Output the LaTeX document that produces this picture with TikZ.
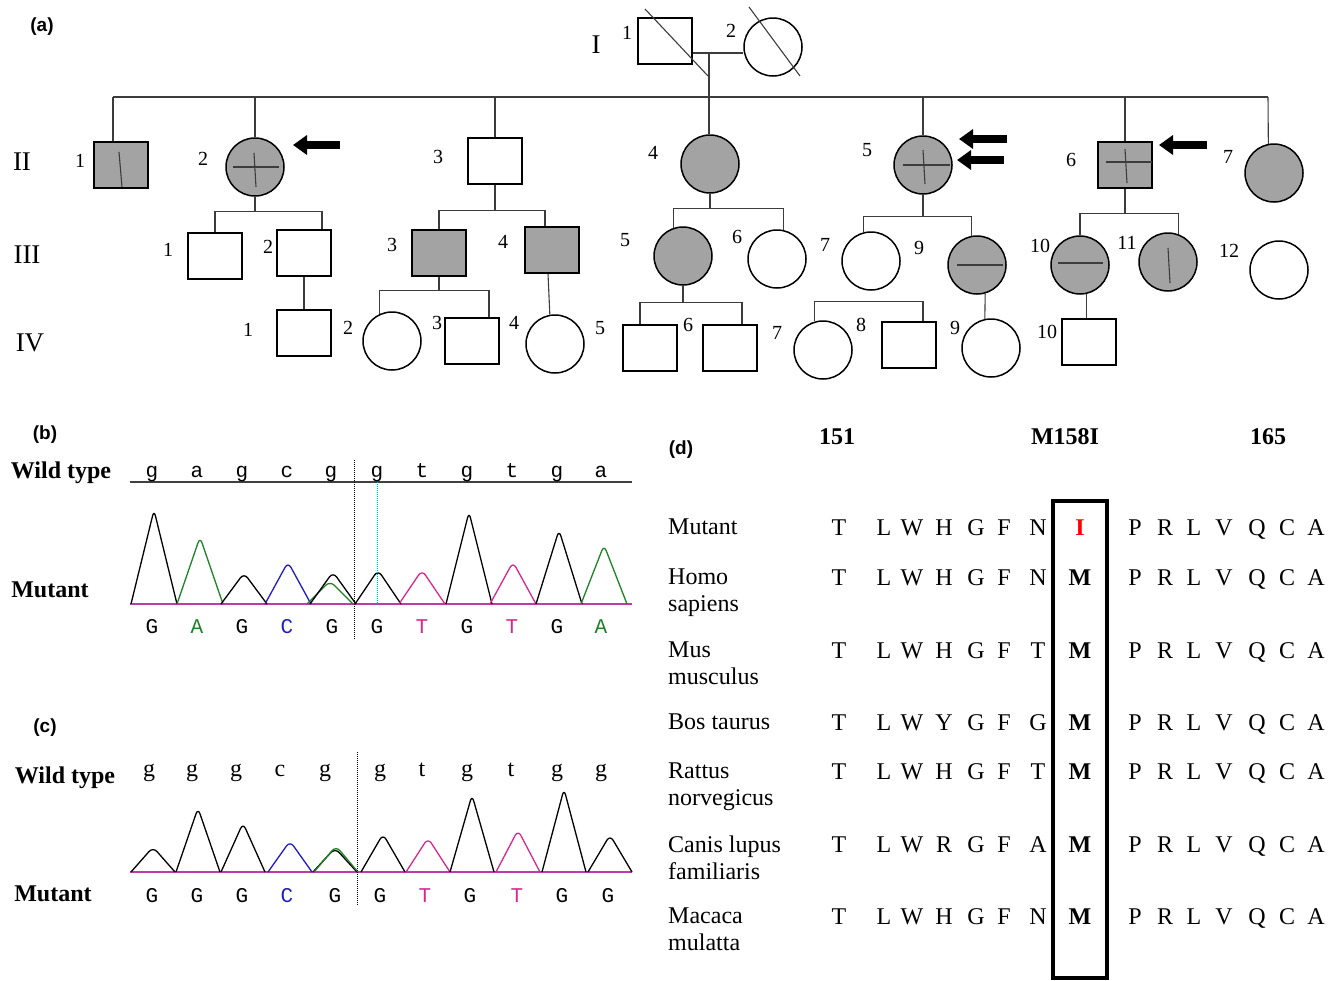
\documentclass[tikz,border=0pt]{standalone}
\usepackage{fontspec}
\setmainfont{Liberation Serif}
\setsansfont{Liberation Sans}
\setmonofont{Liberation Mono}
\usetikzlibrary{arrows.meta}
\definecolor{affgray}{RGB}{163,163,163}
\definecolor{pedgray}{RGB}{60,60,60}
\definecolor{trgreen}{RGB}{30,130,40}
\definecolor{trblue}{RGB}{30,30,190}
\definecolor{trpink}{RGB}{215,40,140}
\definecolor{basepink}{RGB}{190,60,170}
\definecolor{dotcyan}{RGB}{0,170,190}
\newcommand{\pxsize}[1]{\fontsize{#1}{#1}\selectfont}

\begin{document}
\begin{tikzpicture}[x=1pt,y=-1pt,
  male/.style={draw=black,line width=1.5pt,rectangle,minimum width=54pt,minimum height=46pt,inner sep=0pt},
  female/.style={draw=black,line width=1.5pt,circle,minimum size=58pt,inner sep=0pt},
  affected/.style={fill=affgray},
  pedlink/.style={draw=pedgray,line width=1.1pt},
  sign/.style={draw=pedgray,line width=1.1pt},
  idno/.style={font=\pxsize{20},inner sep=0pt},
  genlab/.style={font=\pxsize{27},inner sep=0pt},
  panel/.style={font=\sffamily\bfseries\pxsize{19},inner sep=0pt},
  proband/.style={line width=7.5pt,-{Triangle[length=14pt,width=19pt]}},
  chrom/.style={line width=1.3pt,line join=round,rounded corners=6pt},
  wt/.style={font=\bfseries\pxsize{24},inner sep=0pt},
  base/.style={font=\ttfamily\pxsize{21},inner sep=0pt,anchor=base},
  serifbase/.style={font=\pxsize{24},inner sep=0pt,anchor=base},
  aa/.style={font=\pxsize{24},inner sep=0pt,anchor=base},
  hdr/.style={font=\bfseries\pxsize{24},inner sep=0pt,anchor=base},
  species/.style={font=\fontsize{24}{27}\selectfont,inner sep=0pt,align=left,anchor=north west}
]
\useasboundingbox (0,0) rectangle (1340,980);

% (a) pedigree
\node[panel] (pa) at (42,27) {(a)};
\node[genlab] (gI) at (596,45) {I};
\node[genlab] (gII) at (22,162) {II};
\node[genlab] (gIII) at (27,255) {III};
\node[genlab] (gIV) at (30,343) {IV};

% generation I
\node[male] (I1) at (665,41) {};
\node[female] (I2) at (773,47) {};
\node[idno] (nI1) at (627,33) {1};
\node[idno] (nI2) at (731,31) {2};
\coordinate (wed) at (709,53);
\draw[pedlink] (I1.east |- wed) -- (I2.west |- wed);
\draw[sign] (I1.center) +(-20,-32) -- +(43,35);
\draw[sign] (I2.center) +(-24,-40) -- +(27,29);

% generation II
\node[male,affected] (II1) at (121,165) {};
\node[female,affected] (II2) at (255,167) {};
\node[male] (II3) at (495,161) {};
\node[female,affected] (II4) at (710,164) {};
\node[female,affected] (II5) at (923,165) {};
\node[male,affected] (II6) at (1125,165) {};
\node[female,affected] (II7) at (1274,173) {};
\node[idno] (nII1) at (80,161) {1};
\node[idno] (nII2) at (203,159) {2};
\node[idno] (nII3) at (438,157) {3};
\node[idno] (nII4) at (653,153) {4};
\node[idno] (nII5) at (867,150) {5};
\node[idno] (nII6) at (1071,160) {6};
\node[idno] (nII7) at (1228,157) {7};
\coordinate (sib2) at (0,97);
\draw[pedlink] (wed) -- (wed |- II4.north);
\draw[pedlink] ([xshift=-8pt]II1.north |- sib2) -- ([xshift=-6pt]II7.north |- sib2);
\draw[pedlink] ([xshift=-8pt]II1.north |- sib2) -- ([xshift=-8pt]II1.north);
\draw[pedlink] ([xshift=-6pt]II7.north |- sib2) -- (II7.101);
\foreach \k in {II2,II3,II5,II6}
  \draw[pedlink] (\k.north |- sib2) -- (\k.north);
\draw[sign] (II1.center) +(-2,-13) -- +(1,22);
\draw[sign] (II2.center) +(-22,0) -- +(24,0);
\draw[sign] (II2.center) +(-1,-14) -- +(1,20);
\draw[sign] (II5.center) +(-20,0) -- +(27,0);
\draw[sign] (II5.center) +(0,-15) -- +(2,19);
\draw[sign] (II6.center) +(-19,-3) -- +(27,-3);
\draw[sign] (II6.center) +(0,-16) -- +(2,18);
\draw[proband] (II2.center) ++(85,-22) -- ++(-47,0);
\draw[proband] (II5.center) ++(84,-26) -- ++(-48,0);
\draw[proband] (II5.center) ++(81,-5) -- ++(-47,0);
\draw[proband] (II6.center) ++(82,-20) -- ++(-48,0);

% generation III
\node[male] (III1) at (215,256) {};
\node[male] (III2) at (304,253) {};
\node[male,affected] (III3) at (439,253) {};
\node[male,affected] (III4) at (552,250) {};
\node[female,affected] (III5) at (683,256) {};
\node[female] (III6) at (777,259) {};
\node[female] (III7) at (871,261) {};
\node[female,affected] (III9) at (977,265) {};
\node[female,affected] (III10) at (1080,265) {};
\node[female,affected] (III11) at (1168,262) {};
\node[female] (III12) at (1279,270) {};
\node[idno] (nIII1) at (168,250) {1};
\node[idno] (nIII2) at (268,247) {2};
\node[idno] (nIII3) at (392,245) {3};
\node[idno] (nIII4) at (503,242) {4};
\node[idno] (nIII5) at (625,240) {5};
\node[idno] (nIII6) at (737,237) {6};
\node[idno] (nIII7) at (825,245) {7};
\node[idno] (nIII9) at (919,248) {9};
\node[idno] (nIII10) at (1040,246) {10};
\node[idno] (nIII11) at (1127,243) {11};
\node[idno] (nIII12) at (1229,251) {12};
\draw[pedlink] (II2.south) -- ++(0,15) coordinate (f2);
\draw[pedlink] (III1.north) |- (f2) -| ([xshift=18pt]III2.north);
\draw[pedlink] (II3.south) -- ++(0,26) coordinate (f3);
\draw[pedlink] (III3.north) |- (f3) -| ([xshift=-7pt]III4.north);
\draw[pedlink] (II4.south) -- ++(0,15) coordinate (f4);
\draw[pedlink] (III5.108) |- (f4) -| (III6.78);
\draw[pedlink] (II5.south) -- ++(0,22) coordinate (f5);
\draw[pedlink] (III7.104) |- (f5) -| (III9.100);
\draw[pedlink] (II6.south) -- ++(0,25) coordinate (f6);
\draw[pedlink] (III10.north) |- (f6) -| (III11.70);
\draw[sign] (III9.center) +(-20,0) -- +(26,0);
\draw[sign] (III10.center) +(-22,-2) -- +(23,-2);
\draw[sign] (III11.center) +(0,-14) -- +(2,21);

% generation IV
\node[male] (IV1) at (304,333) {};
\node[female] (IV2) at (392,341) {};
\node[male] (IV3) at (472,341) {};
\node[female] (IV4) at (555,344) {};
\node[male] (IV5) at (650,348) {};
\node[male] (IV6) at (730,348) {};
\node[female] (IV7) at (823,350) {};
\node[male] (IV8) at (909,345) {};
\node[female] (IV9) at (991,348) {};
\node[male] (IV10) at (1089,342) {};
\node[idno] (nIV1) at (248,330) {1};
\node[idno] (nIV2) at (348,328) {2};
\node[idno] (nIV3) at (437,323) {3};
\node[idno] (nIV4) at (514,323) {4};
\node[idno] (nIV5) at (600,328) {5};
\node[idno] (nIV6) at (688,325) {6};
\node[idno] (nIV7) at (777,333) {7};
\node[idno] (nIV8) at (861,325) {8};
\node[idno] (nIV9) at (955,328) {9};
\node[idno] (nIV10) at (1047,332) {10};
\draw[pedlink] (III2.south) -- (IV1.north);
\draw[pedlink] (III3.south) -- ++(0,14) coordinate (f33);
\draw[pedlink] (IV2.114) |- (f33) -| ([xshift=17pt]IV3.north);
\draw[pedlink] ([xshift=-4pt]III4.south) -- (IV4.100);
\draw[pedlink] (III5.south) -- ++(0,17) coordinate (f35);
\draw[pedlink] ([xshift=-10pt]IV5.north) |- (f35) -| ([xshift=12pt]IV6.north);
\draw[pedlink] (IV7.106) -- ++(0,-20) -| ([xshift=14pt]IV8.north);
\draw[pedlink] (III9.-74) -- (IV9.102);
\draw[pedlink] (III10.-78) -- (III10.-78 |- IV10.north);

% (b) chromatogram
\node[panel] (pb) at (45,435) {(b)};
\node[wt] (bwt) at (61,473) {Wild type};
\node[wt] (bmu) at (50,590) {Mutant};
\draw[line width=1.5pt,black!75] (130,482) -- (632,482);
\draw[basepink,line width=1.2pt] (130,604) -- (632,604);
\foreach \c/\h/\col in {154/94/black,200/67/trgreen,244/31/black,288/42/trblue,330/23/trgreen,
    333/32/black,378/34/black,422/34/trpink,469/92/black,513/42/trpink,559/74/black,604/59/trgreen}
  \draw[chrom,\col] (\c-23,604) -- (\c,604-\h) -- (\c+23,604);
\draw[densely dotted,line width=1pt] (354,460) -- (354,640);
\draw[densely dotted,dotcyan,line width=1pt] (377,482) -- (377,604);
\foreach \x/\b [count=\i] in {152/g,197/a,242/g,287/c,331/g,377/g,422/t,467/g,512/t,557/g,601/a}
  \node[base] (bw\i) at (\x,477) {\b};
\foreach \x/\b/\col [count=\i] in {152/G/black,197/A/trgreen,242/G/black,287/C/trblue,332/G/black,
    377/G/black,422/T/trpink,467/G/black,512/T/trpink,557/G/black,601/A/trgreen}
  \node[base,text=\col] (bm\i) at (\x,633) {\b};

% (c) chromatogram
\node[panel] (pc) at (45,728) {(c)};
\node[wt] (cwt) at (65,778) {Wild type};
\node[wt] (cmu) at (53,894) {Mutant};
\draw[basepink,line width=1.2pt] (130,872) -- (632,872);
\foreach \c/\h/\col in {153/25/black,198/64/black,243/49/black,290/31/trblue,335/24/black,
    336/26/trgreen,383/38/black,428/34/trpink,472/77/black,518/42/trpink,564/83/black,610/37/black}
  \draw[chrom,\col] (\c-22,872) -- (\c,872-\h) -- (\c+22,872);
\draw[densely dotted,line width=1pt] (357,752) -- (357,905);
\foreach \x/\b [count=\i] in {149/g,192/g,236/g,280/c,325/g,380/g,422/t,467/g,511/t,557/g,601/g}
  \node[serifbase] (cw\i) at (\x,776) {\b};
\foreach \x/\b/\col [count=\i] in {152/G/black,197/G/black,242/G/black,287/C/trblue,335/G/black,
    380/G/black,425/T/trpink,470/G/black,517/T/trpink,562/G/black,608/G/black}
  \node[base,text=\col] (cm\i) at (\x,902) {\b};

% (d) alignment
\node[panel] (pd) at (681,450) {(d)};
\node[hdr] (h151) at (837,444) {151};
\node[hdr] (hmut) at (1065,444) {M158I};
\node[hdr] (h165) at (1268,444) {165};
\node[species] (spMut) at (668,519) {Mutant};
\node[species] (spHomo) at (668,569) {Homo\\sapiens};
\node[species] (spMus) at (668,642) {Mus\\musculus};
\node[species] (spBos) at (668,714) {Bos taurus};
\node[species] (spRat) at (668,763) {Rattus\\norvegicus};
\node[species] (spCan) at (668,836) {Canis lupus\\familiaris};
\node[species] (spMac) at (668,908) {Macaca\\mulatta};
\foreach \y/\h/\n [count=\r] in {535/H/N,585/H/N,658/H/T,730/Y/G,779/H/T,852/R/A,924/H/N}{
  \foreach \c/\x in {T/839,L/884,W/912,\h/944,G/976,F/1004,\n/1038,P/1135,R/1165,L/1194,V/1224,Q/1257,C/1287,A/1316}
    \node[aa] (s\r-\x) at (\x,\y) {\c};
}
\node[aa,font=\bfseries\pxsize{24},text=red] (site1) at (1080,535) {I};
\foreach \y [count=\r from 2] in {585,658,730,779,852,924}
  \node[aa,font=\bfseries\pxsize{24}] (site\r) at (1080,\y) {M};
\draw[line width=3.5pt] (1053,501) rectangle (1107,978);
\end{tikzpicture}
\end{document}
